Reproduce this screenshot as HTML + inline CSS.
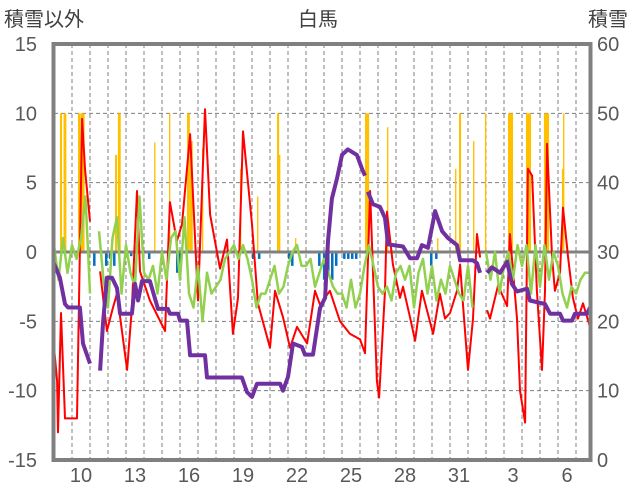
<!DOCTYPE html>
<html><head><meta charset="utf-8"><style>
body{margin:0;background:#fff;}
svg{display:block;font-family:"Liberation Sans","Noto Sans CJK JP",sans-serif;}
</style></head><body>
<svg id="chart" width="636" height="501" viewBox="0 0 636 501">
<defs><clipPath id="pc"><rect x="55" y="46" width="534" height="412"/></clipPath></defs>
<text x="4" y="26" font-size="20" fill="#404040">積雪以外</text>
<text x="318" y="26" font-size="20" fill="#404040" text-anchor="middle">白馬</text>
<text x="588" y="26" font-size="20" fill="#404040">積雪</text>
<g id="grid"></g>
<g id="bars" clip-path="url(#pc)"></g>
<g id="lines" clip-path="url(#pc)"></g>
<g id="axes"></g>
<rect x="53.5" y="44" width="537" height="416" fill="none" stroke="#808080" stroke-width="4"/>
</svg>
<script>
const leftTicks=[15,10,5,0,-5,-10,-15];
const rightTicks=[60,50,40,30,20,10,0];
const xTickLabels=["10","13","16","19","22","25","28","31","3","6"];
const xTickDays=[0,3,6,9,12,15,18,21,24,27];
const redT=[-1.06,-0.83,-0.78,-0.61,-0.39,0.06,0.28,0.56,0.72,1.0,1.2,1.56,1.94,2.28,2.5,3.06,3.33,3.61,3.78,4.33,5.17,5.44,5.83,6.11,6.56,7,7.39,7.67,8.22,8.61,8.94,9.22,9.5,10,10.33,11,11.28,11.72,12.11,12.5,13.06,13.5,13.78,14.33,14.89,15.44,16,16.28,16.39,16.56,16.94,17.06,17.39,17.5,17.83,18.22,18.39,18.78,19.06,19.44,20.06,20.44,20.72,21,21.39,21.56,21.72,22,22.28,22.5,22.67,22.8,23.06,23.22,23.67,24.17,24.33,24.72,24.89,25.17,25.33,25.56,25.83,26.11,26.28,26.39,26.67,26.83,27.11,27.28,27.56,27.83,28.11,28.39,28.89];
const redV=[-6,-9.3,-13,-4.4,-12,-12,-12,9.6,6,2.2,null,-1.4,-5.7,-4,-3,-8.5,-4,4.4,-1.4,-3.5,-5.7,3.6,0.8,2,8.5,-3.5,10.3,2.7,-1.2,0.9,-5.9,-3.3,8.7,2,-3.7,-6.9,-2.8,-4.7,-6.9,-5.4,-6.6,-2.8,-3.8,-2.8,-5,-5.9,-6.3,-7.3,-2.8,4.4,-9.3,-10.5,-2.8,2.9,-0.9,-3.3,-2.5,-4.7,-6.4,-2.8,-5.9,-3,-4.8,-4.4,-2.8,-0.9,-3.8,-8.5,-4.8,1.3,-0.4,null,-4.2,-4.8,-2.4,-3.9,1.3,-4.8,-10,-12.3,6,5.5,-2.8,-8.5,-2.8,7.8,-0.4,-2.8,-1.5,3.2,-0.4,-3.3,-4.8,-3.7,-5.9];
const greenStart=-1, greenStep=0.25;
const greenV=[0.5,-2,1,-1.5,0.5,-0.5,1,4,-3,null,1.5,-2,-4,1,2.5,-3,0.5,-1.5,-2.5,4,-1.5,-2,-1,-3,0,-2,1,1.5,-2,2.5,-3,-4,-1,-5,-1.5,-3,-2.5,-2,-0.5,0,0.5,-0.5,0.5,-0.5,-2,-4,-3,-3,-2,-1,-3,-2.5,-1,0,0.5,-1,-1,-0.5,-2.5,-1.5,-0.5,-1.5,-2.5,-3,-3,-4,-2,-4,-3,-1,0.5,-1,-2.5,-3,-2.5,-3.5,-1.5,-1,-2,-1,-4,-1.5,-0.5,-3,-1,-3.5,-2,-3,-1,-2,-3,-3.5,-1,-4,null,null,0,-2,0,-3,-1,0,-2,0.5,-1,0.5,-3,0.5,-2.5,0.5,-2,0,-1,-3,-4,-2.5,-3,-2,-1.5,-1.5,1];
const snowT=[-1.06,-0.67,-0.39,-0.22,0.44,0.61,1,1.2,1.56,1.72,1.94,2.22,2.5,2.67,3.33,3.5,3.67,3.89,4.33,4.78,5.33,5.44,5.89,6,6.39,6.56,7.39,7.5,9.44,9.72,10,10.28,11.56,11.72,12,12.28,12.78,12.94,13.39,13.78,14.06,14.22,14.44,14.72,15,15.33,15.83,16.11,16.28,16.36,16.44,16.72,17.11,17.39,17.56,18.39,18.78,19.17,19.44,19.78,20.17,20.56,20.89,21.39,21.56,22.28,22.5,22.67,22.85,23.06,23.33,23.78,24.17,24.44,24.72,25.28,25.44,26.28,26.56,27.11,27.28,27.78,27.94,28.61,28.78];
const snowV=[28.7,26.3,22.5,22,22,16.8,13.9,null,12.9,19.7,26.3,26.3,24.8,21.1,21.1,25.4,23,25.8,25.8,21.8,21.8,21.1,21.1,20.1,20.1,15.1,15.1,11.9,11.9,9.8,9.1,11,11,10,12,16.8,16.3,15.2,15.2,21.9,23.4,31.6,37.7,40.6,44,44.8,44,42,41,null,38.7,36.9,36.5,34.9,31.1,30.8,29.1,29.1,31,30.6,35.9,33,32,31,28.8,28.8,28.4,27,null,27,27.8,27,28.6,25.4,24.3,24.7,23,22.5,21.1,21.1,20.1,20.1,21.1,21.1,22];
const snowfallT=[-0.67,-0.47,-0.4,0.33,0.5,2.39,2.55,4.56,5.39,6.39,6.55,7.22,9.33,10.28,11.39,11.5,12.39,16.28,16.39,17.5,20.28,21.28,21.5,22.28,22.94,24.22,25.22,26.22,27.22,27.28];
const snowfallV=[10,10,5,10,10,7,10,7.9,10,10,8,7.5,6,4,10,7,1,10,10,9,1,6,10,8,10,10,10,10,6,10];
const snowfallHours=[2,3,1,3,4,2,3,1,1,3,3,1,1,1,2,1,1,2,2,1,1,1,2,1,1,6,6,6,2,1];
const negT=[1.17,1.83,2.06,2.28,3.22,4.22,5.78,5.94,10,10.33,12,12.17,13.67,13.94,14.17,14.39,14.61,15.06,15.28,15.5,15.72,19.89,20.17];
const negV=[-1,-1,-0.5,-1,-0.3,-0.5,-1.5,-2,-0.5,-0.5,-0.5,-1,-1,-2,-1.5,-2,-1,-0.5,-0.5,-0.5,-0.5,-1,-0.5];

const NS="http://www.w3.org/2000/svg";
const X0=72, DAYW=18, TOP=44, BOT=460;
function xS(t){return X0+DAYW*t;}
function yL(v){return (TOP+BOT)/2 - v*(BOT-TOP)/30;}
function yR(v){return BOT - v*(BOT-TOP)/60;}
function mk(tag,attrs,parent){const e=document.createElementNS(NS,tag);for(const k in attrs)e.setAttribute(k,attrs[k]);parent.appendChild(e);return e;}
const grid=document.getElementById('grid'),bars=document.getElementById('bars'),lines=document.getElementById('lines'),axes=document.getElementById('axes');

for(let d=0;d<29;d++){
  const l=mk('line',{x1:xS(d),x2:xS(d),y1:TOP,y2:BOT,stroke:'#7f7f7f','stroke-width':1,'stroke-dasharray':'4,3'},grid);
  
  
}
leftTicks.forEach((v,i)=>{
  if(v!==0&&Math.abs(v)!==15){
    const l=mk('line',{x1:54,x2:590,y1:yL(v),y2:yL(v),stroke:'#7f7f7f','stroke-width':1,'stroke-dasharray':'4,3'},grid);
    
    
  }
  const t=mk('text',{x:37,y:yL(v)+7,'font-size':20,fill:'#595959','text-anchor':'end'},axes);
  t.textContent=v;
  
  
});
rightTicks.forEach(v=>{
  const t=mk('text',{x:597,y:yR(v)+7,'font-size':20,fill:'#595959'},axes);
  t.textContent=v;
  
  
});
xTickLabels.forEach((s,i)=>{
  const t=mk('text',{x:xS(xTickDays[i]+0.5),y:482,'font-size':20,fill:'#595959','text-anchor':'middle'},axes);
  t.textContent=s;
  
  
});
snowfallT.forEach((t,i)=>{
  const w=snowfallHours[i]*DAYW/24+0.6;
  const r=mk('rect',{x:xS(t),y:yL(snowfallV[i]),width:w,height:yL(0)-yL(snowfallV[i]),fill:'#ffc000'},bars);
  
  
});
negT.forEach((t,i)=>{
  const r=mk('rect',{x:xS(t),y:yL(0),width:2.5,height:yL(negV[i])-yL(0),fill:'#0070c0'},bars);
  
  
});
const zl=mk('line',{x1:54,x2:590,y1:yL(0),y2:yL(0),stroke:'#808080','stroke-width':3},bars);


function pathFrom(ts,vs,ys){let d='',pen=false;for(let i=0;i<ts.length;i++){if(vs[i]===null){pen=false;continue;}d+=(pen?'L':'M')+xS(ts[i]).toFixed(1)+' '+ys(vs[i]).toFixed(1)+' ';pen=true;}return d;}
const rp=mk('path',{d:pathFrom(redT,redV,yL),fill:'none',stroke:'#ff0000','stroke-width':2,'stroke-linejoin':'round'},lines);


const gT=greenV.map((v,i)=>greenStart+i*greenStep);
const gp=mk('path',{d:pathFrom(gT,greenV,yL),fill:'none',stroke:'#92d050','stroke-width':2.5,'stroke-linejoin':'round'},lines);


const pp=mk('path',{d:pathFrom(snowT,snowV,yR),fill:'none',stroke:'#7030a0','stroke-width':4,'stroke-linejoin':'round'},lines);


</script>
</body></html>
